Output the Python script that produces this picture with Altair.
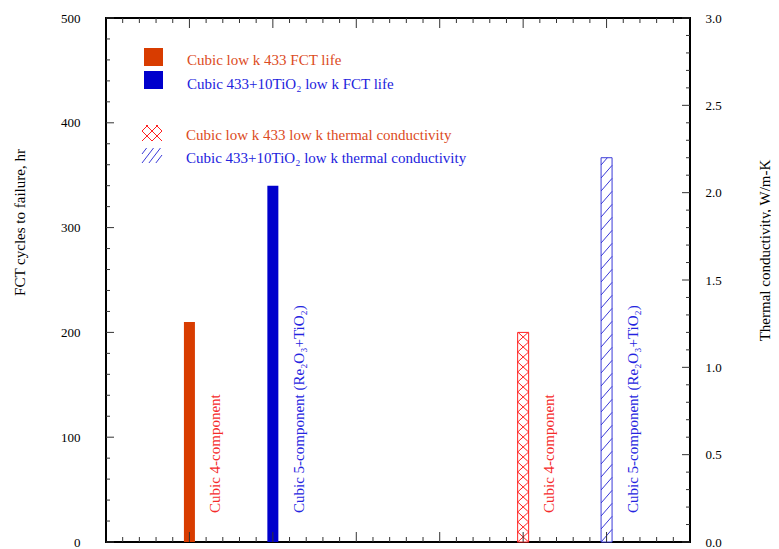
import altair as alt
import pandas as pd
import numpy as np

# ---------------- data ----------------
fct_pos = [1, 2]
fct_values = [210, 340]                      # FCT cycles to failure, hr
fct_colors = ["#D83C00", "#0000CC"]
tc_pos = [5, 6]
tc_values = [1.2, 2.2]                       # thermal conductivity, W/m-K
tc_colors = ["#FF2020", "#3A3AD8"]
bar_labels = ["Cubic 4-component", "Cubic 5-component (Re\u2082O\u2083+TiO\u2082)",
              "Cubic 4-component", "Cubic 5-component (Re\u2082O\u2083+TiO\u2082)"]
bar_label_pos = [1, 2, 5, 6]
bar_label_colors = ["#F52A2A", "#2424E0", "#F52A2A", "#2424E0"]
legend_labels = ["Cubic low k 433 FCT life",
                 "Cubic 433+10TiO\u2082 low k FCT life",
                 "Cubic low k 433 low k thermal conductivity",
                 "Cubic 433+10TiO\u2082 low k thermal conductivity"]
legend_colors = ["#DC4B23", "#2222DD", "#DC4B23", "#2222DD"]
left_ticks = [0, 100, 200, 300, 400, 500]
right_ticks = [0.0, 0.5, 1.0, 1.5, 2.0, 2.5, 3.0]

# ---------------- layout ----------------
W, H = 584, 524
XMAX, YLMAX, YRMAX = 7, 500, 3
FONT = "Liberation Serif"
BAR_PX = 11
half = BAR_PX / 2 / W * XMAX


def ux(px):
    return px / W * XMAX


def uyL(py):
    return (H - py) / H * YLMAX


def xS(f):
    return alt.X(f, type="quantitative", scale=alt.Scale(domain=[0, XMAX], nice=False, zero=False), axis=None)


def x2S(f):
    return alt.X2(f)


def yL(f, axis=None):
    return alt.Y(f, type="quantitative", scale=alt.Scale(domain=[0, YLMAX], nice=False), axis=axis)


def yR(f, axis=None):
    return alt.Y(f, type="quantitative", scale=alt.Scale(domain=[0, YRMAX], nice=False), axis=axis)


def hatch(w, h, slope, period, families):
    segs = []
    for fam in families:
        if fam == "/":
            kmin = int(np.floor(-w * slope / period)) - 1
            kmax = int(np.ceil(h / period)) + 1
            for k in range(kmin, kmax + 1):
                c = k * period
                xa = max(0.0, -c / slope)
                xb = min(w, (h - c) / slope)
                if xb > xa + 0.3:
                    segs.append((xa, c + slope * xa, xb, c + slope * xb))
        else:
            kmax = int(np.ceil((h + w * slope) / period)) + 1
            for k in range(0, kmax + 1):
                c = k * period
                xa = max(0.0, (c - h) / slope)
                xb = min(w, c / slope)
                if xb > xa + 0.3:
                    segs.append((xa, c - slope * xa, xb, c - slope * xb))
    return segs


# ---------------- left (FCT) layers ----------------
left_axis = alt.Axis(values=left_ticks, ticks=False, domain=False, grid=False,
                     labelPadding=26, labelFont=FONT, labelFontSize=13, labelColor="black",
                     title="FCT cycles to failure, hr", titleFont=FONT, titleFontSize=15,
                     titleFontWeight="normal", titleColor="black", titleAngle=270,
                     titleX=-87, titleY=204, titleAlign="center", titleBaseline="middle")

df_fct = pd.DataFrame({"x": [p - half for p in fct_pos], "x2": [p + half for p in fct_pos],
                       "y": [0, 0], "y2": fct_values, "c": fct_colors})
fct_bars = alt.Chart(df_fct).mark_rect().encode(
    x=xS("x"), x2=x2S("x2"), y=yL("y", left_axis), y2=alt.Y2("y2"),
    color=alt.Color("c:N", scale=None))

left_minor = [v for v in range(0, 501, 20) if v % 100]
x_major = [1, 2, 3, 4, 5, 6]
x_minor = [round(i * 0.2, 2) for i in range(1, 35) if i % 5]
TC = "#333333"
lt_major = alt.Chart(pd.DataFrame({"v": left_ticks})).mark_rule(color=TC).encode(
    y=yL("v"), x=alt.value(0), x2=alt.value(8))
lt_minor = alt.Chart(pd.DataFrame({"v": left_minor})).mark_rule(color=TC).encode(
    y=yL("v"), x=alt.value(0), x2=alt.value(4))
bt_major = alt.Chart(pd.DataFrame({"v": x_major})).mark_rule(color=TC).encode(
    x=xS("v"), y=alt.value(H), y2=alt.value(H - 10))
bt_minor = alt.Chart(pd.DataFrame({"v": x_minor})).mark_rule(color=TC).encode(
    x=xS("v"), y=alt.value(H), y2=alt.value(H - 5))
tt_major = alt.Chart(pd.DataFrame({"v": x_major})).mark_rule(color=TC).encode(
    x=xS("v"), y=alt.value(0), y2=alt.value(10))
tt_minor = alt.Chart(pd.DataFrame({"v": x_minor})).mark_rule(color=TC).encode(
    x=xS("v"), y=alt.value(0), y2=alt.value(5))

sq = pd.DataFrame({"x": [ux(38), ux(38)], "x2": [ux(57), ux(57)],
                   "y": [uyL(30), uyL(53)], "y2": [uyL(48), uyL(71)], "c": fct_colors})
leg_sq = alt.Chart(sq).mark_rect().encode(
    x=xS("x"), x2=x2S("x2"), y=yL("y"), y2=alt.Y2("y2"), color=alt.Color("c:N", scale=None))

leg_txt_df = pd.DataFrame({"x": [ux(81), ux(81), ux(80), ux(80)],
                           "y": [uyL(47), uyL(71), uyL(122), uyL(145)],
                           "t": legend_labels, "c": legend_colors})
leg_txt = alt.Chart(leg_txt_df).mark_text(align="left", baseline="alphabetic", font=FONT,
                                          fontSize=15).encode(
    x=xS("x"), y=yL("y"), text="t:N", color=alt.Color("c:N", scale=None))

sym_rows = []
for (xa, ya, xb, yb) in hatch(20, 16, 1.0, 10, ["/", "\\"]):
    sym_rows.append({"x": ux(36 + xa), "x2": ux(36 + xb), "y": uyL(123) + ya / H * YLMAX,
                     "y2": uyL(123) + yb / H * YLMAX, "c": "#FF2020"})
for (xa, ya, xb, yb) in hatch(20, 15, 1.3, 9, ["/"]):
    sym_rows.append({"x": ux(36 + xa), "x2": ux(36 + xb), "y": uyL(145) + ya / H * YLMAX,
                     "y2": uyL(145) + yb / H * YLMAX, "c": "#3A3AD8"})
leg_sym = alt.Chart(pd.DataFrame(sym_rows)).mark_rule(strokeWidth=1).encode(
    x=xS("x"), x2=x2S("x2"), y=yL("y"), y2=alt.Y2("y2"), color=alt.Color("c:N", scale=None))

ann_df = pd.DataFrame({"x": [p + ux(26) for p in bar_label_pos], "y": [uyL(495)] * 4,
                       "t": bar_labels, "c": bar_label_colors})
ann = alt.Chart(ann_df).mark_text(align="left", baseline="middle", angle=270, font=FONT,
                                  fontSize=15).encode(
    x=xS("x"), y=yL("y"), text="t:N", color=alt.Color("c:N", scale=None))

# ---------------- right (thermal conductivity) layers ----------------
right_axis = alt.Axis(values=right_ticks, format=".1f", orient="right", ticks=False,
                      domain=False, grid=False, labelPadding=15, labelFont=FONT, labelFontSize=13,
                      labelColor="black", title="Thermal conductivity, W/m-K", titleFont=FONT,
                      titleFontSize=15, titleFontWeight="normal", titleColor="black",
                      titleAngle=270, titleX=74, titleY=232, titleAlign="center",
                      titleBaseline="middle")

df_tc = pd.DataFrame({"x": [p - half for p in tc_pos], "x2": [p + half for p in tc_pos],
                      "y": [0, 0], "y2": tc_values, "c": tc_colors})
tc_out = alt.Chart(df_tc).mark_rect(fill="white", strokeWidth=1).encode(
    x=xS("x"), x2=x2S("x2"), y=yR("y", right_axis), y2=alt.Y2("y2"),
    stroke=alt.Stroke("c:N", scale=None))

hrows = []
specs = [(10 / 11, 10, ["/", "\\"]), (1.15, 13, ["/"])]
for pos, val, col, (sl, per, fams) in zip(tc_pos, tc_values, tc_colors, specs):
    hpx = val / YRMAX * H
    for (xa, ya, xb, yb) in hatch(BAR_PX, hpx, sl, per, fams):
        hrows.append({"x": pos - half + ux(xa), "x2": pos - half + ux(xb),
                      "y": ya / H * YRMAX, "y2": yb / H * YRMAX, "c": col})
tc_hatch = alt.Chart(pd.DataFrame(hrows)).mark_rule(strokeWidth=1).encode(
    x=xS("x"), x2=x2S("x2"), y=yR("y"), y2=alt.Y2("y2"), color=alt.Color("c:N", scale=None))

right_minor = [round(i * 0.1, 1) for i in range(1, 30) if i % 5]
rt_major = alt.Chart(pd.DataFrame({"v": right_ticks})).mark_rule(color=TC).encode(
    y=yR("v"), x=alt.value(W), x2=alt.value(W - 8))
rt_minor = alt.Chart(pd.DataFrame({"v": right_minor})).mark_rule(color=TC).encode(
    y=yR("v"), x=alt.value(W), x2=alt.value(W - 4))

chart = alt.layer(
    fct_bars, tc_out, tc_hatch,
    lt_major, lt_minor, rt_major, rt_minor, bt_major, bt_minor, tt_major, tt_minor,
    leg_sq, leg_sym, leg_txt, ann,
).resolve_scale(y="independent").properties(
    width=W, height=H,
    padding={"left": 98, "top": 10, "right": 81, "bottom": 10},
    autosize=alt.AutoSizeParams(type="none"),
).configure(font=FONT).configure_view(stroke="black", strokeWidth=2)

chart.save("out.html", embed_options={"renderer": "svg", "actions": False})
